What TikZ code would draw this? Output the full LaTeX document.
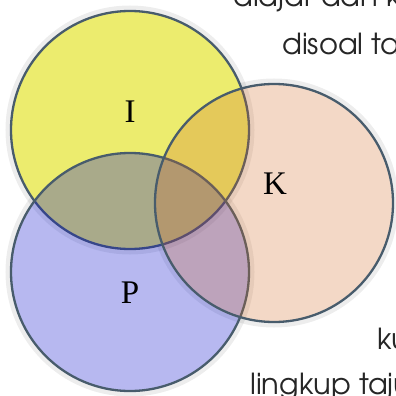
\documentclass[tikz,border=0pt]{standalone}
\usepackage{fontspec}
\newfontfamily\gothic{TeX Gyre Adventor}
\newfontfamily\labfont{Liberation Serif}
\definecolor{yel}{RGB}{236,236,110}
\definecolor{blu}{RGB}{15,20,205}
\definecolor{pnk}{RGB}{208,104,35}
\definecolor{edgec}{RGB}{72,92,108}
\begin{document}
\begin{tikzpicture}[x=1pt,y=-1pt,
  venn/.style={circle, minimum size=238pt, inner sep=0pt, draw=edgec, line width=2.3pt},
  glow/.style={draw=black, line width=5pt, draw opacity=0.07},
  lab/.style={font=\labfont\fontsize{33}{33}\selectfont, inner sep=0pt},
  bgtext/.style={font=\gothic\fontsize{29}{29}\selectfont, anchor=base west, inner sep=0pt, text=black!85}]
\useasboundingbox (0,0) rectangle (396,396);
\clip (0,0) rectangle (396,396);
% background text fragments
\node[bgtext] (t1) at (233,7) {alajar dan k};
\node[bgtext] (t2) at (282,55) {disoal tac};
\node[bgtext] (t3) at (377,349) {ku};
\node[bgtext] (t4) at (250,394) {lingkup taju};
% soft outer shadows
\draw[glow] (130,130) circle (122pt);
\draw[glow] (130,272) circle (122pt);
\draw[glow] (274,203) circle (122pt);
% circles
\node[venn, fill=yel] (I) at (130,130) {};
\node[venn, fill=blu, fill opacity=0.3] (P) at (130,272) {};
\node[venn, fill=pnk, fill opacity=0.26] (K) at (274,203) {};
% labels
\node[lab] (lI) at (130,112) {I};
\node[lab] (lK) at (275,184) {K};
\node[lab] (lP) at (130,293) {P};
\end{tikzpicture}
\end{document}
